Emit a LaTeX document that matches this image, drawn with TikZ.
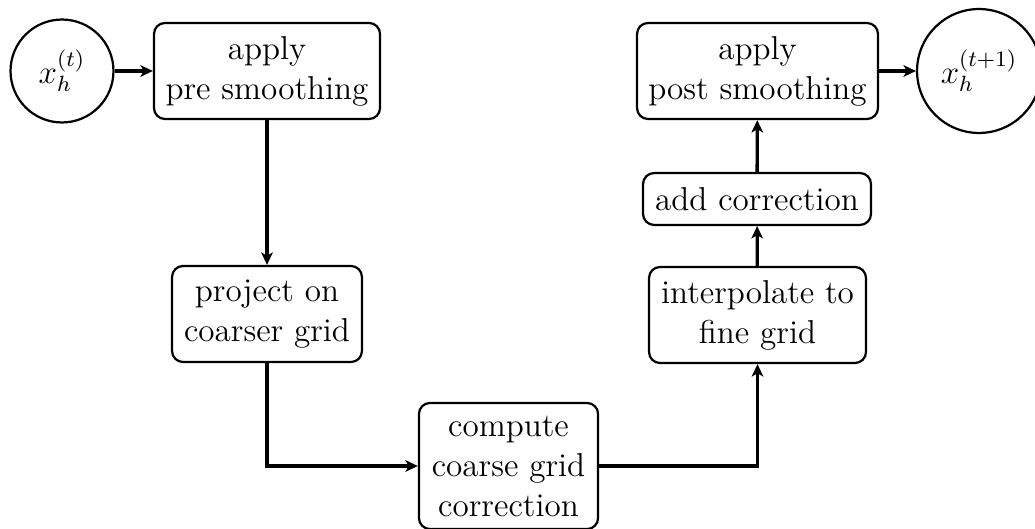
\documentclass[tikz,border=0pt,12pt]{standalone}
\usetikzlibrary{arrows.meta}
\tikzset{
  stepbox/.style={draw, line width=0.8pt, rounded corners=4pt, align=center, inner xsep=2pt, inner ysep=1pt},
  state/.style={draw, circle, line width=0.8pt, inner sep=1pt},
  flow/.style={line width=1.2pt, -{Stealth[length=4.5pt,width=4.2pt,inset=1.2pt]}}
}
\begin{document}
\begin{tikzpicture}[x=0.3623pt, y=-0.3623pt]
\useasboundingbox (0,0) rectangle (1035,529);
\node[state, minimum size=37.3pt] (x0) at (62,71) {$x_h^{(t)}$};
\node[stepbox, minimum width=81.9pt, minimum height=34.8pt] (pre) at (267,71) {apply\\pre smoothing};
\node[stepbox, minimum width=68.8pt, minimum height=34.8pt] (proj) at (267,314) {project on\\coarser grid};
\node[stepbox, minimum width=64.9pt, minimum height=45.7pt] (comp) at (508.5,466) {compute\\coarse grid\\correction};
\node[stepbox, minimum width=78.6pt, minimum height=34.8pt] (interp) at (757.5,315) {interpolate to\\fine grid};
\node[stepbox, minimum width=82.6pt, minimum height=18.8pt] (add) at (757,199) {add correction};
\node[stepbox, minimum width=87.3pt, minimum height=34.8pt] (post) at (757.5,71) {apply\\post smoothing};
\node[state, minimum size=44.9pt] (x1) at (979,71) {$x_h^{(t+1)}$};
\draw[flow] (x0) -- (pre);
\draw[flow] (pre) -- (proj);
\draw[flow] (proj.south) |- (comp.west);
\draw[flow] (comp.east) -| (interp.south);
\draw[flow] (interp) -- (add);
\draw[flow] (add) -- (post);
\draw[flow] (post) -- (x1);
\end{tikzpicture}
\end{document}
